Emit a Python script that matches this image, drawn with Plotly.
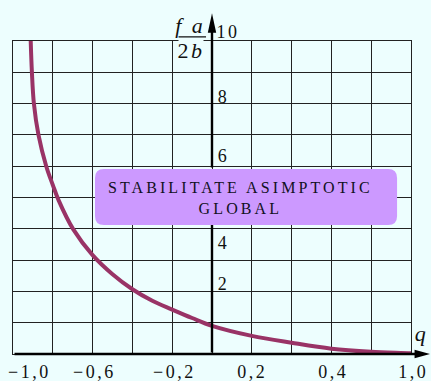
import plotly.graph_objects as go

# ---- data (grid coordinates) ----
q_vals = [-0.911, -0.905, -0.895, -0.872, -0.833, -0.80, -0.77, -0.697, -0.60,
          -0.50, -0.40, -0.30, -0.20, -0.10, 0.0, 0.20, 0.40, 0.60, 0.80, 1.0, 1.04]
f_vals = [10.0, 9.0, 8.0, 7.0, 6.0, 5.40, 4.90, 3.98, 3.16,
          2.55, 2.07, 1.70, 1.42, 1.15, 0.9, 0.58, 0.36, 0.17, 0.07, 0.02, 0.0]

x_tick_text = ["\u22121,0", "\u22120,6", "\u22120,2", "0,2", "0,4", "1,0"]
x_tick_pos = [-0.915, -0.588, -0.186, 0.2035, 0.613, 1.015]
y_tick_text = ["10", "8", "6", "4", "2"]
y_tick_pos = [10.30, 8.22, 6.32, 3.55, 2.24]

box_text = "STABILITATE ASIMPTOTIC<br>GLOBAL"

BG = "#EDFEFE"
SERIF = "Liberation Serif, Times New Roman, serif"
INK = "#111111"

# box extent in grid units
u1, u2, v1, v2 = -0.588, 0.930, 4.12, 5.91


def px_(u):
    """grid x -> paper x"""
    return (u + 1.0) / 2.0


def py_(v):
    """grid y -> paper y"""
    return v / 10.0


fig = go.Figure()

fig.add_trace(go.Scatter(
    x=q_vals, y=f_vals, mode="lines",
    line=dict(color="#993366", width=4, shape="spline", smoothing=1.0),
    cliponaxis=False, hoverinfo="skip", showlegend=False))

annotations = []
# axis shafts (paper referenced, offsets in pixels)
annotations.append(dict(x=px_(1.06), y=0, xref="paper", yref="paper",
                        ax=-(2.06 * 199), ay=0, axref="pixel", ayref="pixel",
                        text="", showarrow=True, arrowhead=0, arrowwidth=2.6, arrowcolor="black"))
# vertical axis, interrupted behind the label box
annotations.append(dict(x=0.5, y=py_(v1), xref="paper", yref="paper",
                        ax=0, ay=v1 * 31.3, axref="pixel", ayref="pixel",
                        text="", showarrow=True, arrowhead=0, arrowwidth=2.4, arrowcolor="black"))
annotations.append(dict(x=0.5, y=py_(10.6), xref="paper", yref="paper",
                        ax=0, ay=(10.6 - v2) * 31.3, axref="pixel", ayref="pixel",
                        text="", showarrow=True, arrowhead=0, arrowwidth=2.4, arrowcolor="black"))

# x tick labels
for t, p in zip(x_tick_text, x_tick_pos):
    annotations.append(dict(x=px_(p), y=py_(-0.575), xref="paper", yref="paper", text=t,
                            showarrow=False, xanchor="center", yanchor="middle",
                            font=dict(family=SERIF, size=18, color=INK)))
# y tick labels
for t, p in zip(y_tick_text, y_tick_pos):
    annotations.append(dict(x=px_(0.027), y=py_(p), xref="paper", yref="paper", text=t,
                            showarrow=False, xanchor="left", yanchor="middle",
                            font=dict(family=SERIF, size=18, color=INK)))

# axis titles
annotations.append(dict(x=px_(1.055), y=py_(0.64), xref="paper", yref="paper", text="<i>q</i>",
                        showarrow=False, xanchor="center", yanchor="middle",
                        font=dict(family=SERIF, size=22, color=INK)))
annotations.append(dict(x=px_(-0.106), y=py_(9.71), xref="paper", yref="paper", text="2<i>b</i>",
                        showarrow=False, xanchor="center", yanchor="middle", bgcolor=BG, borderpad=1,
                        font=dict(family=SERIF, size=22, color=INK)))
annotations.append(dict(x=px_(-0.106), y=py_(10.51), xref="paper", yref="paper", text="<i>f a</i>",
                        showarrow=False, xanchor="center", yanchor="middle",
                        font=dict(family=SERIF, size=22, color=INK)))
annotations.append(dict(x=px_(-0.03), y=py_(10.13), xref="paper", yref="paper",
                        ax=-29, ay=0, axref="pixel", ayref="pixel",
                        text="", showarrow=True, arrowhead=0, arrowwidth=1.3, arrowcolor=INK))

# box text
annotations.append(dict(x=0.141, y=5.0, xref="x", yref="y", text=box_text, showarrow=False,
                        xanchor="center", yanchor="middle", align="center",
                        font=dict(family=SERIF, size=16, color="#111122")))

ru, rv = 0.045, 0.29
box_path = (f"M{u1+ru},{v1} L{u2-ru},{v1} Q{u2},{v1} {u2},{v1+rv} L{u2},{v2-rv} "
            f"Q{u2},{v2} {u2-ru},{v2} L{u1+ru},{v2} Q{u1},{v2} {u1},{v2-rv} "
            f"L{u1},{v1+rv} Q{u1},{v1} {u1+ru},{v1} Z")

# arrowheads (paper coords, decoration)
xt, xb, hwy = px_(1.0955), px_(1.018), 4.2 / 313.0
x_head = f"M{xt},0 L{xb},{hwy} L{xb},{-hwy} Z"
yt, yb, hwx = py_(10.89), py_(10.26), 4.2 / 398.0
y_head = f"M0.5,{yt} L{0.5 + hwx},{yb} L{0.5 - hwx},{yb} Z"

axis_common = dict(showgrid=True, gridcolor="#222222", gridwidth=1.3,
                   showline=True, mirror=True, linecolor="#222222", linewidth=1.3,
                   zeroline=False, showticklabels=False, ticks="", fixedrange=True)

fig.update_layout(
    width=431, height=381, autosize=False,
    margin=dict(l=13, r=20, t=41, b=27, pad=0),
    paper_bgcolor=BG, plot_bgcolor=BG,
    xaxis=dict(range=[-1, 1], dtick=0.2, tick0=-1, **axis_common),
    yaxis=dict(range=[0, 10], dtick=1, tick0=0, **axis_common),
    shapes=[dict(type="path", path=box_path, xref="x", yref="y",
                 fillcolor="#CC99FF", line=dict(width=0), layer="above"),
            dict(type="path", path=x_head, xref="paper", yref="paper",
                 fillcolor="black", line=dict(width=0), layer="above"),
            dict(type="path", path=y_head, xref="paper", yref="paper",
                 fillcolor="black", line=dict(width=0), layer="above")],
    annotations=annotations,
    showlegend=False,
)

post = ("var s=document.createElement('style');"
        "s.textContent='html,body{margin:0;padding:0;overflow:hidden;}';"
        "document.head.appendChild(s);"
        "document.querySelectorAll('.annotation-text').forEach(function(t){"
        "var c=t.textContent||'';"
        "t.style.letterSpacing=(c.indexOf('STAB')>=0)?'3.1px':'2.5px';});")

fig.write_html("out.html", post_script=post, config={"displayModeBar": False, "responsive": False})
